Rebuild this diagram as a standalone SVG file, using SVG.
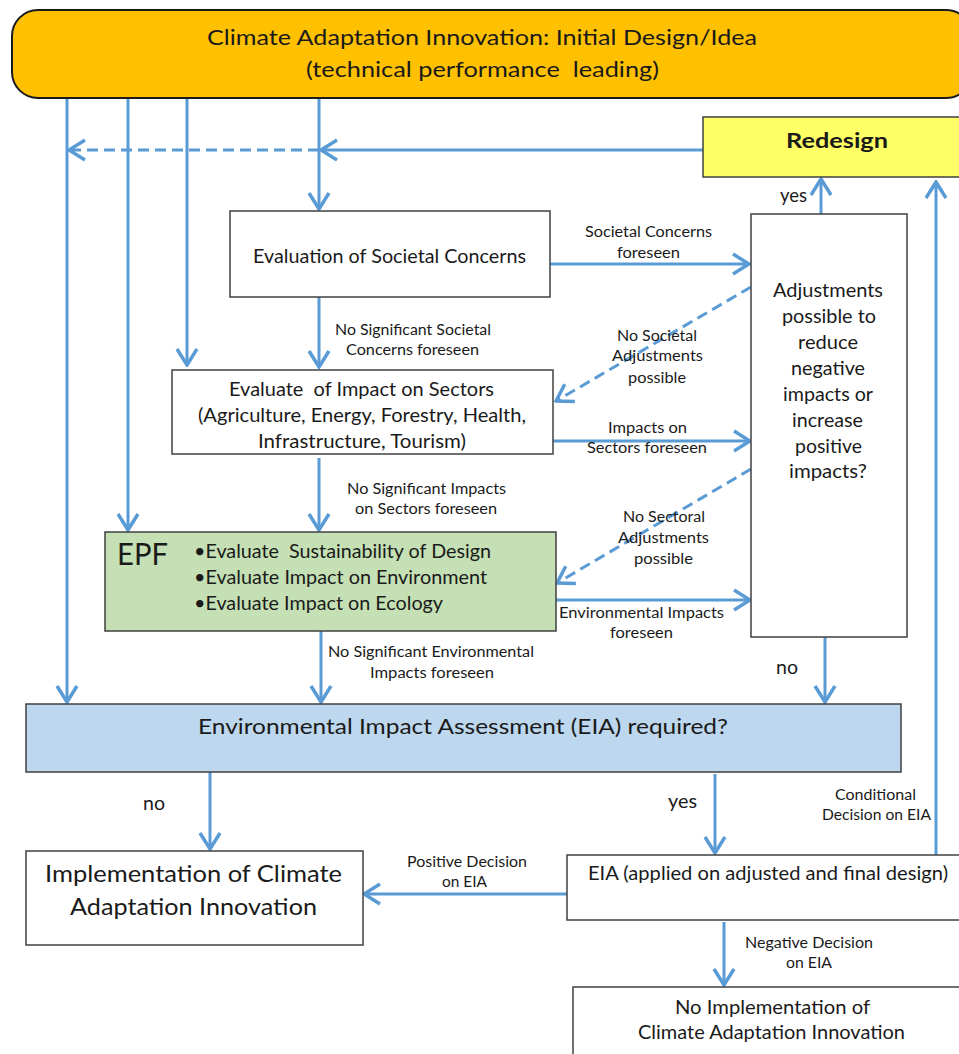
<svg xmlns="http://www.w3.org/2000/svg" width="959" height="1054" viewBox="0 0 959 1054">
<style>
.t{font-family:Lato,"Liberation Sans",sans-serif;fill:#1a1a1a}
.lbl{font-size:15.5px}
.mid{font-size:19px}
.big{font-size:22px}
.box{fill:#fff;stroke:#404040;stroke-width:1.5}
.ln{stroke:#5B9BD5;stroke-width:3;fill:none}
.ar{marker-end:url(#ah)}
.dash{stroke-dasharray:11 6}
</style>
<defs>
<marker id="ah" viewBox="-19 -12 21 24" markerWidth="21" markerHeight="24" refX="0" refY="0" orient="auto" markerUnits="userSpaceOnUse">
<path d="M-16,-10 L0,0 L-16,10" fill="none" stroke="#5B9BD5" stroke-width="3.5"/>
</marker>
</defs>

<g id="connectors">
<line class="ln ar" x1="67" y1="98" x2="67" y2="702"/>
<line class="ln ar" x1="128" y1="98" x2="128" y2="530"/>
<line class="ln ar" x1="187" y1="98" x2="187" y2="365"/>
<line class="ln ar" x1="319" y1="98" x2="319" y2="209"/>
<line class="ln ar" x1="703" y1="150" x2="321" y2="150"/>
<line class="ln ar dash" x1="319" y1="150" x2="69" y2="150"/>
<line class="ln ar" x1="319" y1="297" x2="319" y2="367"/>
<line class="ln ar" x1="550" y1="264" x2="749" y2="264"/>
<line class="ln ar dash" x1="751" y1="287" x2="556" y2="401"/>
<line class="ln ar" x1="553" y1="441" x2="750" y2="441"/>
<line class="ln ar" x1="319" y1="458" x2="319" y2="530"/>
<line class="ln ar dash" x1="751" y1="469" x2="557" y2="583"/>
<line class="ln ar" x1="556" y1="600" x2="750" y2="600"/>
<line class="ln ar" x1="321" y1="631" x2="321" y2="702"/>
<line class="ln ar" x1="825" y1="637" x2="825" y2="702"/>
<line class="ln ar" x1="821" y1="214" x2="821" y2="179"/>
<line class="ln ar" x1="936" y1="855" x2="936" y2="182"/>
<line class="ln ar" x1="210" y1="772" x2="210" y2="849"/>
<line class="ln ar" x1="715" y1="774" x2="715" y2="853"/>
<line class="ln ar" x1="567" y1="894" x2="364" y2="894"/>
<line class="ln ar" x1="724" y1="922" x2="724" y2="985"/>
</g>

<g id="labels">
<text class="t lbl" x="585" y="237" textLength="127" lengthAdjust="spacingAndGlyphs">Societal Concerns</text>
<text class="t lbl" x="617" y="258" textLength="63" lengthAdjust="spacingAndGlyphs">foreseen</text>
<text class="t lbl" x="335" y="335" textLength="156" lengthAdjust="spacingAndGlyphs">No Significant Societal</text>
<text class="t lbl" x="346" y="355" textLength="133" lengthAdjust="spacingAndGlyphs">Concerns foreseen</text>
<text class="t lbl" x="617" y="341" textLength="80" lengthAdjust="spacingAndGlyphs">No Societal</text>
<text class="t lbl" x="612" y="361" textLength="91" lengthAdjust="spacingAndGlyphs">Adjustments</text>
<text class="t lbl" x="628" y="383" textLength="58" lengthAdjust="spacingAndGlyphs">possible</text>
<text class="t lbl" x="608" y="433" textLength="79" lengthAdjust="spacingAndGlyphs">Impacts on</text>
<text class="t lbl" x="587" y="453" textLength="120" lengthAdjust="spacingAndGlyphs">Sectors foreseen</text>
<text class="t lbl" x="347" y="494" textLength="159" lengthAdjust="spacingAndGlyphs">No Significant Impacts</text>
<text class="t lbl" x="355" y="514" textLength="142" lengthAdjust="spacingAndGlyphs">on Sectors foreseen</text>
<text class="t lbl" x="623" y="522" textLength="82" lengthAdjust="spacingAndGlyphs">No Sectoral</text>
<text class="t lbl" x="618" y="543" textLength="91" lengthAdjust="spacingAndGlyphs">Adjustments</text>
<text class="t lbl" x="634" y="564" textLength="59" lengthAdjust="spacingAndGlyphs">possible</text>
<text class="t lbl" x="559" y="618" textLength="165" lengthAdjust="spacingAndGlyphs">Environmental Impacts</text>
<text class="t lbl" x="610" y="638" textLength="63" lengthAdjust="spacingAndGlyphs">foreseen</text>
<text class="t lbl" x="328" y="657" textLength="206" lengthAdjust="spacingAndGlyphs">No Significant Environmental</text>
<text class="t lbl" x="370" y="678" textLength="124" lengthAdjust="spacingAndGlyphs">Impacts foreseen</text>
<text class="t mid" x="776" y="674" textLength="22" lengthAdjust="spacingAndGlyphs">no</text>
<text class="t mid" x="780" y="202" textLength="27" lengthAdjust="spacingAndGlyphs">yes</text>
<text class="t mid" x="143" y="810" textLength="22" lengthAdjust="spacingAndGlyphs">no</text>
<text class="t mid" x="668" y="808" textLength="29" lengthAdjust="spacingAndGlyphs">yes</text>
<text class="t lbl" x="835" y="800" textLength="81" lengthAdjust="spacingAndGlyphs">Conditional</text>
<text class="t lbl" x="822" y="820" textLength="109" lengthAdjust="spacingAndGlyphs">Decision on EIA</text>
<text class="t lbl" x="407" y="867" textLength="120" lengthAdjust="spacingAndGlyphs">Positive Decision</text>
<text class="t lbl" x="442" y="887" textLength="45" lengthAdjust="spacingAndGlyphs">on EIA</text>
<text class="t lbl" x="745" y="948" textLength="128" lengthAdjust="spacingAndGlyphs">Negative Decision</text>
<text class="t lbl" x="786" y="968" textLength="46" lengthAdjust="spacingAndGlyphs">on EIA</text>
</g>

<g id="node-top">
<rect x="12" y="10" width="960" height="88" rx="26" fill="#FFC000" stroke="#1a1a1a" stroke-width="2"/>
<text class="t big" x="207" y="45" textLength="550" lengthAdjust="spacingAndGlyphs">Climate Adaptation Innovation: Initial Design/Idea</text>
<text class="t big" x="306" y="77" textLength="353" lengthAdjust="spacingAndGlyphs" xml:space="preserve">(technical performance  leading)</text>
</g>

<g id="node-redesign">
<rect x="703" y="117" width="270" height="60" fill="#FFFF66" stroke="#404040" stroke-width="1.5"/>
<text class="t" x="786" y="148" font-size="20" font-weight="bold" textLength="102" lengthAdjust="spacingAndGlyphs">Redesign</text>
</g>

<g id="node-societal">
<rect class="box" x="230" y="211" width="320" height="86"/>
<text class="t mid" x="253" y="263" textLength="273" lengthAdjust="spacingAndGlyphs">Evaluation of Societal Concerns</text>
</g>

<g id="node-adjust">
<rect class="box" x="751" y="214" width="156" height="423"/>
<text class="t mid" x="773" y="297" textLength="110" lengthAdjust="spacingAndGlyphs">Adjustments</text>
<text class="t mid" x="782" y="323" textLength="94" lengthAdjust="spacingAndGlyphs">possible to</text>
<text class="t mid" x="798" y="349" textLength="60" lengthAdjust="spacingAndGlyphs">reduce</text>
<text class="t mid" x="791" y="375" textLength="74" lengthAdjust="spacingAndGlyphs">negative</text>
<text class="t mid" x="783" y="401" textLength="90" lengthAdjust="spacingAndGlyphs">impacts or</text>
<text class="t mid" x="792" y="427" textLength="71" lengthAdjust="spacingAndGlyphs">increase</text>
<text class="t mid" x="795" y="453" textLength="67" lengthAdjust="spacingAndGlyphs">positive</text>
<text class="t mid" x="789" y="478" textLength="78" lengthAdjust="spacingAndGlyphs">impacts?</text>
</g>

<g id="node-sectors">
<rect class="box" x="172" y="370" width="381" height="84"/>
<text class="t mid" x="229" y="396" textLength="265" lengthAdjust="spacingAndGlyphs" xml:space="preserve">Evaluate  of Impact on Sectors</text>
<text class="t mid" x="198" y="422" textLength="328" lengthAdjust="spacingAndGlyphs">(Agriculture, Energy, Forestry, Health,</text>
<text class="t mid" x="258" y="448" textLength="208" lengthAdjust="spacingAndGlyphs">Infrastructure, Tourism)</text>
</g>

<g id="node-epf">
<rect x="105" y="532" width="451" height="99" fill="#C5E0B4" stroke="#404040" stroke-width="1.5"/>
<text class="t" x="117" y="565" font-size="30" textLength="51" lengthAdjust="spacingAndGlyphs">EPF</text>
<text class="t mid" x="194" y="558" textLength="297" lengthAdjust="spacingAndGlyphs" xml:space="preserve">•Evaluate  Sustainability of Design</text>
<text class="t mid" x="194" y="584" textLength="293" lengthAdjust="spacingAndGlyphs">•Evaluate Impact on Environment</text>
<text class="t mid" x="194" y="610" textLength="249" lengthAdjust="spacingAndGlyphs">•Evaluate Impact on Ecology</text>
</g>

<g id="node-eia-required">
<rect x="26" y="704" width="875" height="68" fill="#BDD7EE" stroke="#404040" stroke-width="1.5"/>
<text class="t big" x="198" y="734" textLength="530" lengthAdjust="spacingAndGlyphs">Environmental Impact Assessment (EIA) required?</text>
</g>

<g id="node-implementation">
<rect class="box" x="26" y="851" width="337" height="94"/>
<text class="t" x="45" y="882" font-size="24" textLength="297" lengthAdjust="spacingAndGlyphs">Implementation of Climate</text>
<text class="t" x="70" y="915" font-size="24" textLength="247" lengthAdjust="spacingAndGlyphs">Adaptation Innovation</text>
</g>

<g id="node-eia-applied">
<rect class="box" x="567" y="855" width="400" height="65"/>
<text class="t mid" x="588" y="880" textLength="360" lengthAdjust="spacingAndGlyphs">EIA (applied on adjusted and final design)</text>
</g>

<g id="node-no-implementation">
<rect class="box" x="573" y="987" width="400" height="80"/>
<text class="t mid" x="675" y="1014" textLength="195" lengthAdjust="spacingAndGlyphs">No Implementation of</text>
<text class="t mid" x="638" y="1039" textLength="267" lengthAdjust="spacingAndGlyphs">Climate Adaptation Innovation</text>
</g>
</svg>
